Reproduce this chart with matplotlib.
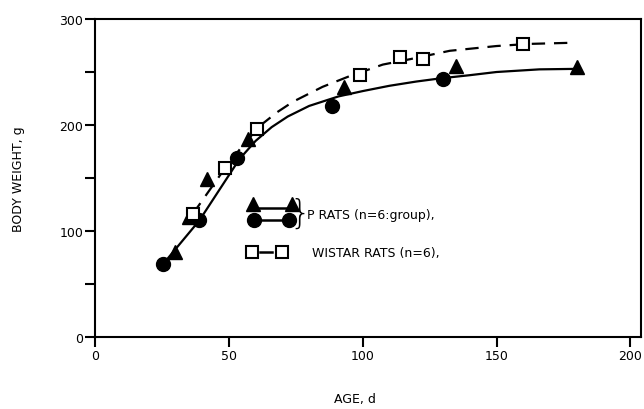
import numpy as np
import matplotlib.pyplot as plt

# P rats, two groups (triangles and circles)
tri_age = [30, 35, 42, 57, 93, 135, 180]
tri_wt = [80, 113, 149, 187, 236, 256, 255]
circ_age = [25.5, 39, 53, 88.5, 130]
circ_wt = [69, 110, 169, 218, 243]

# Wistar rats (open squares)
sq_age = [36.5, 48.5, 60.5, 99, 114, 122.5, 160]
sq_wt = [116, 159, 196, 247, 264, 262, 276]

# fitted curves
p_curve_age = [25.5, 39, 54, 60, 66, 72, 80, 91, 100, 110, 120, 129, 140, 150, 166, 181]
p_curve_wt = [69, 110, 168, 185, 198, 208, 218, 227, 232, 237, 241, 244, 247, 250, 252.5, 253]
w_curve_age = [36.5, 48.5, 55, 61.5, 68, 74, 85, 95, 107.5, 117.5, 132.5, 150, 162, 177]
w_curve_wt = [116, 159, 180, 199, 212, 222, 236, 246, 257, 262, 270, 274.5, 276.5, 277.5]

x_ticks = [0, 50, 100, 150, 200]
y_ticks = [0, 100, 200, 300]
y_minor = [50, 150, 250]

fig = plt.figure(figsize=(6.44, 4.10), dpi=100)
ax = fig.add_axes([0.1475, 0.1756, 0.848, 0.7756])

ax.plot(p_curve_age, p_curve_wt, color='black', lw=1.6, zorder=2)
ax.plot(w_curve_age, w_curve_wt, color='black', lw=1.6, linestyle=(0, (6, 4)), zorder=2)

ax.plot(tri_age, tri_wt, linestyle='none', marker='^', ms=9.5, color='black', zorder=3)
ax.plot(circ_age, circ_wt, linestyle='none', marker='o', ms=10, color='black', zorder=3)
ax.plot(sq_age, sq_wt, linestyle='none', marker='s', ms=8.5, mfc='white', mec='black',
        mew=1.5, zorder=3)

# hand-drawn style legend
tr = ax.transAxes
ax.plot([0.289, 0.36], [0.405, 0.405], color='black', lw=1.8, transform=tr)
ax.plot([0.289, 0.36], [0.418, 0.418], linestyle='none', marker='^', ms=9.5,
        color='black', transform=tr)
ax.plot([0.292, 0.356], [0.368, 0.368], color='black', lw=1.8, marker='o', ms=10,
        transform=tr)
ax.text(0.376, 0.39, '}', fontsize=24, va='center', ha='center', transform=tr,
        fontweight='light')
ax.text(0.389, 0.385, 'P RATS (n=6:group),', fontsize=9, va='center', transform=tr)
ax.plot([0.303, 0.325], [0.267, 0.267], color='black', lw=1.8, transform=tr)
ax.plot([0.288, 0.342], [0.267, 0.267], linestyle='none', marker='s', ms=8, mfc='white',
        mec='black', mew=1.5, transform=tr)
ax.text(0.398, 0.267, 'WISTAR RATS (n=6),', fontsize=9, va='center', transform=tr)

ax.set_xlim(0, 204)
ax.set_ylim(0, 300)
ax.set_xticks(x_ticks)
ax.set_yticks(y_ticks)
ax.set_yticks(y_minor, minor=True)
ax.tick_params(axis='both', which='both', direction='out', length=7, width=1.5,
               labelsize=9, pad=1.5)
for s in ax.spines.values():
    s.set_linewidth(1.5)

fig.text(0.028, 0.563, 'BODY WEIGHT, g', rotation=90, fontsize=9, va='center', ha='center')
fig.text(0.551, 0.025, 'AGE, d', fontsize=9, va='center', ha='center')

fig.savefig('out.png', dpi=100)
